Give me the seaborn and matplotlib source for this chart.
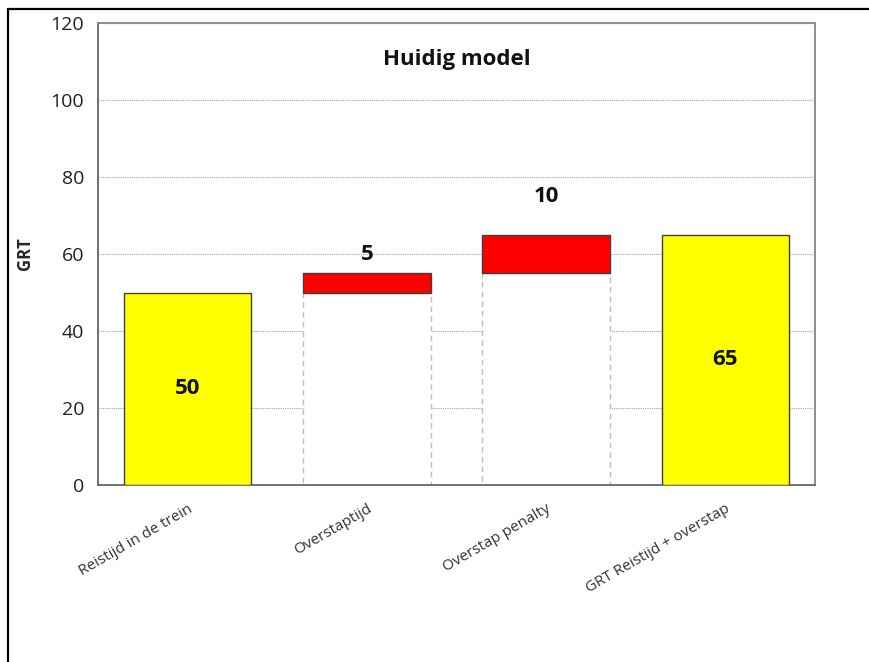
import matplotlib
matplotlib.use("Agg")
import matplotlib.pyplot as plt
from matplotlib.lines import Line2D
import seaborn as sns
import numpy as np
import pandas as pd

categories = ["Reistijd in de trein", "Overstaptijd", "Overstap penalty", "GRT Reistijd + overstap"]
values = [50, 5, 10, 65]
bases = [0, 50, 55, 0]
bar_colors = ["#FFFF00", "#FF0000", "#FF0000", "#FFFF00"]
title = "Huidig model"
ylabel = "GRT"

sns.set_style("white")
plt.rcParams["font.family"] = ["Open Sans", "DejaVu Sans"]

df = pd.DataFrame({"cat": categories, "value": values, "base": bases})

fig = plt.figure(figsize=(8.69, 6.62), dpi=100)
ax = fig.add_axes([98/869, 1-485/662, (815-98)/869, (485-23)/662])

# invisible base bars with dashed outlines
sns.barplot(data=df, x="cat", y="base", color="white", width=0.71, errorbar=None,
            edgecolor="#bdbdbd", linewidth=1.0, linestyle=(0, (4, 3)), ax=ax, zorder=2)
# value bars on top of base
sns.barplot(data=df, x="cat", y="value", bottom=df["base"].to_numpy(), color="white",
            width=0.71, errorbar=None, edgecolor="#404040", linewidth=1.0, ax=ax, zorder=3)
for p, c in zip(ax.patches[len(categories):], bar_colors):
    p.set_facecolor(c)

# value labels
for i, (v, b) in enumerate(zip(values, bases)):
    if b == 0:
        ax.text(i, v / 2, str(v), ha="center", va="center", fontsize=16, fontweight="bold",
                color="#111111", zorder=5)
    else:
        ax.text(i, b + 2 * v, str(v), ha="center", va="center", fontsize=16, fontweight="bold",
                color="#111111", zorder=5)

ax.set_ylim(0, 120)
ax.set_xlim(-0.5, len(categories) - 0.5)
ax.set_yticks(np.arange(0, 121, 20))
ax.yaxis.grid(True, color="#a0a0a0", linestyle=(0, (1, 1)), linewidth=0.8)
ax.set_axisbelow(True)

ax.set_xticks(range(len(categories)))
ax.set_xticklabels(categories, rotation=30, ha="right", rotation_mode="anchor", fontsize=11, color="#333333")
ax.set_xticks(np.arange(-0.5, len(categories), 1), minor=True)
ax.tick_params(axis="x", which="major", length=0, pad=12)
ax.tick_params(axis="x", which="minor", length=5, width=1.2, color="#666666", direction="out")
ax.tick_params(axis="y", length=5, width=1.2, color="#666666", direction="out", labelsize=14,
               labelcolor="#222222", pad=5)
ax.set_xlabel("")
ax.set_ylabel(ylabel, fontsize=12, fontweight="bold", labelpad=12)

for s in ["left", "bottom"]:
    ax.spines[s].set_color("#666666")
    ax.spines[s].set_linewidth(1.3)
for s in ["top", "right"]:
    ax.spines[s].set_color("#909090")
    ax.spines[s].set_linewidth(1.5)
    ax.spines[s].set_visible(True)

ax.text(0.5, 0.92, title, transform=ax.transAxes, ha="center", va="center",
        fontsize=16, fontweight="bold", color="#111111")

# outer frame (top and left edges visible in crop)
fig.add_artist(Line2D([8/869, 1.0], [1-9/662, 1-9/662], transform=fig.transFigure, color="black", linewidth=1.6))
fig.add_artist(Line2D([8/869, 8/869], [0, 1-9/662], transform=fig.transFigure, color="black", linewidth=1.6))

fig.savefig("out.png", dpi=100, facecolor="white")
